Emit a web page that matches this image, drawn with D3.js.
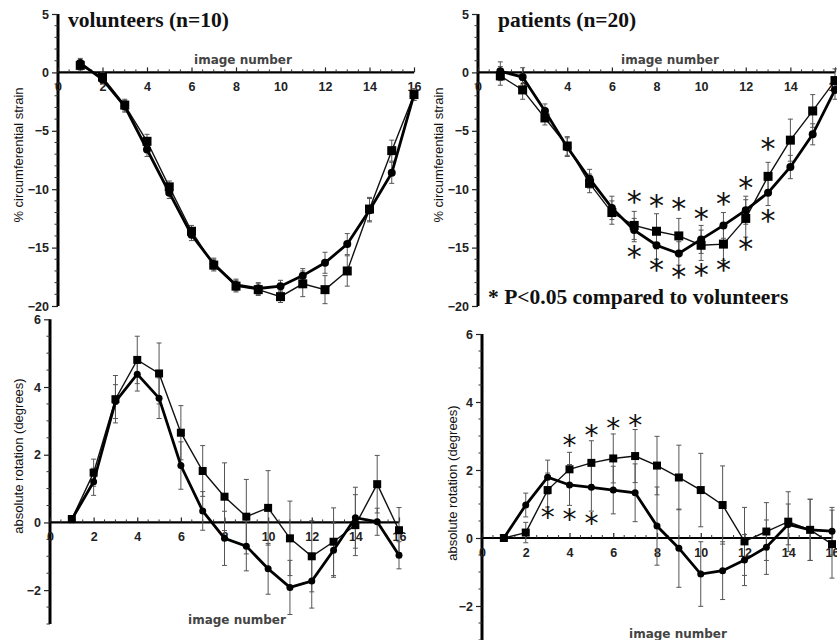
<!DOCTYPE html>
<html>
<head>
<meta charset="utf-8">
<script src="https://cdn.jsdelivr.net/npm/d3@7"></script>
<style>
  html, body { margin: 0; padding: 0; background: #fff; }
  svg { display: block; }
</style>
</head>
<body>
<div id="chart"></div>
<script>
// image numbers along the x axis
const imageNumbers = [1, 2, 3, 4, 5, 6, 7, 8, 9, 10, 11, 12, 13, 14, 15, 16];
const xTicks = [0, 2, 4, 6, 8, 10, 12, 14, 16];
const strainTicks = [5, 0, -5, -10, -15, -20];
const rotationTicks = [6, 4, 2, 0, -2];

// volunteers, circumferential strain (%)
const volStrainSq = [0.6, -0.4, -2.8, -5.9, -9.8, -13.6, -16.5, -18.3, -18.6, -19.2, -18.1, -18.6, -17.0, -11.7, -6.7, -1.9];
const volStrainSqErr = [0.4, 0.4, 0.5, 0.6, 0.5, 0.5, 0.5, 0.5, 0.5, 0.5, 1.1, 1.2, 1.3, 1.0, 0.9, 0.5];
const volStrainCi = [0.8, -0.6, -2.9, -6.6, -10.3, -13.9, -16.4, -18.2, -18.5, -18.3, -17.4, -16.3, -14.7, -11.8, -8.6, -1.9];
const volStrainCiErr = [0.4, 0.4, 0.5, 0.6, 0.5, 0.5, 0.5, 0.5, 0.5, 0.5, 0.6, 0.9, 0.9, 1.0, 0.9, 0.5];

// patients, circumferential strain (%)
const patStrainSq = [-0.3, -1.5, -3.9, -6.3, -9.5, -12.0, -13.1, -13.6, -14.0, -14.8, -14.7, -12.5, -8.9, -5.8, -3.3, -0.7];
const patStrainSqErr = [0.8, 0.8, 0.6, 0.8, 0.8, 1.0, 1.2, 1.5, 1.5, 1.3, 1.4, 1.6, 1.2, 1.8, 1.4, 1.0];
const patStrainCi = [0.1, -0.4, -3.3, -6.4, -9.1, -11.6, -13.5, -14.8, -15.5, -14.3, -13.1, -11.8, -10.3, -8.1, -5.3, -1.5];
const patStrainCiErr = [0.8, 0.8, 0.6, 0.8, 0.8, 1.0, 1.0, 1.2, 1.0, 1.2, 1.1, 1.2, 1.1, 1.0, 0.9, 0.8];
// significance markers: [image number, strain value at the star]
const patStrainStarsAbove = [[7, -10.9], [8, -11.2], [9, -11.5], [10, -12.3], [11, -11.05], [12, -9.7], [13, -6.3]];
const patStrainStarsBelow = [[7, -15.6], [8, -16.7], [9, -17.3], [10, -17.1], [11, -16.7], [12, -14.9], [13, -12.5]];

// volunteers, absolute rotation (degrees)
const volRotSq = [0.1, 1.47, 3.64, 4.8, 4.4, 2.65, 1.52, 0.76, 0.17, 0.43, -0.47, -1.0, -0.57, -0.08, 1.13, -0.23];
const volRotSqErr = [0.1, 0.4, 0.7, 0.7, 0.9, 0.8, 0.75, 1.0, 1.1, 1.1, 1.1, 1.05, 1.0, 0.9, 0.85, 0.67];
const volRotCi = [0.09, 1.2, 3.57, 4.38, 3.67, 1.68, 0.34, -0.47, -0.7, -1.37, -1.92, -1.73, -0.82, 0.14, 0.02, -0.97];
const volRotCiErr = [0.1, 0.4, 0.5, 0.5, 0.6, 0.7, 0.57, 0.8, 0.73, 0.75, 0.8, 0.8, 0.8, 0.9, 0.4, 0.4];

// patients, absolute rotation (degrees)
const patRotSq = [0, 0.16, 1.41, 2.02, 2.21, 2.34, 2.41, 2.13, 1.78, 1.41, 0.97, -0.1, 0.19, 0.48, 0.24, -0.18];
const patRotSqErr = [0, 0.3, 0.5, 0.5, 0.65, 0.72, 0.78, 0.86, 0.95, 1.08, 1.15, 1.0, 0.85, 0.88, 0.9, 1.0];
const patRotCi = [0, 0.97, 1.79, 1.56, 1.49, 1.41, 1.33, 0.35, -0.3, -1.06, -0.96, -0.65, -0.27, 0.4, 0.24, 0.2];
const patRotCiErr = [0, 0.35, 0.5, 0.6, 0.7, 0.7, 0.85, 1.15, 1.15, 0.95, 0.85, 0.75, 0.8, 0.6, 0.9, 0.7];
const patRotStarsAbove = [[4, 2.78], [5, 3.08], [6, 3.29], [7, 3.39]];
const patRotStarsBelow = [[3, 0.68], [4, 0.61], [5, 0.5]];

const W = 837, H = 640;
const svg = d3.select('#chart').append('svg').attr('width', W).attr('height', H);

const panels = [
  {
    xr: [58, 414], yd: [5, -20], yr: [14, 306], ticks: strainTicks, minor: 1, mk: 9, mc: 8,
    sq: volStrainSq, sqErr: volStrainSqErr, ci: volStrainCi, ciErr: volStrainCiErr,
    title: 'volunteers (n=10)', titleX: 68, titleY: 27,
    yLabel: '% circumferential strain', yLabelX: 18, yLabelY: 155,
    xLabelX: 243, xLabelY: 64, stars: []
  },
  {
    xr: [478, 835], yd: [5, -20], yr: [14, 306], ticks: strainTicks, minor: 1, mk: 9, mc: 8,
    sq: patStrainSq, sqErr: patStrainSqErr, ci: patStrainCi, ciErr: patStrainCiErr,
    title: 'patients (n=20)', titleX: 498, titleY: 27,
    yLabel: '% circumferential strain', yLabelX: 438, yLabelY: 155,
    xLabelX: 670, xLabelY: 64, stars: patStrainStarsAbove.concat(patStrainStarsBelow), starSize: 30,
    note: '* P<0.05 compared to volunteers', noteX: 488, noteY: 304
  },
  {
    xr: [50, 399], yd: [6, -3], yr: [319.3, 624], ticks: rotationTicks, minor: 0.5, mk: 8, mc: 7,
    sq: volRotSq, sqErr: volRotSqErr, ci: volRotCi, ciErr: volRotCiErr,
    yLabel: 'absolute rotation (degrees)', yLabelX: 18, yLabelY: 456,
    xLabelX: 237, xLabelY: 624, stars: []
  },
  {
    xr: [482, 832], yd: [6, -3], yr: [334, 640], ticks: rotationTicks, minor: 0.5, mk: 8, mc: 7,
    sq: patRotSq, sqErr: patRotSqErr, ci: patRotCi, ciErr: patRotCiErr,
    yLabel: 'absolute rotation (degrees)', yLabelX: 452, yLabelY: 483,
    xLabelX: 678, xLabelY: 638, stars: patRotStarsAbove.concat(patRotStarsBelow), starSize: 28
  }
];

panels.forEach((p) => drawPanel(p));

function drawPanel(p) {
  const x = d3.scaleLinear().domain([0, 16]).range(p.xr);
  const y = d3.scaleLinear().domain(p.yd).range(p.yr);
  const g = svg.append('g');

  // y axis (line + major/minor ticks on the left)
  const yAxis = g.append('g').attr('transform', `translate(${x(0)},0)`)
    .call(d3.axisLeft(y).tickValues(p.ticks).tickSize(6).tickPadding(3).tickFormat(d3.format('d')));
  yAxis.select('.domain').attr('stroke', '#000').attr('stroke-width', 3).attr('d', `M0,${y(p.yd[0])}V${y(p.yd[1])}`);
  yAxis.selectAll('.tick line').attr('stroke', '#222').attr('stroke-width', 1.2);
  yAxis.selectAll('.tick text')
    .attr('font-family', 'Liberation Sans, Arial, sans-serif').attr('font-weight', 'bold')
    .attr('font-size', 12.5).attr('fill', '#222');
  const yMinor = d3.range(p.yd[1], p.yd[0] + 0.001, p.minor).filter((v) => !p.ticks.includes(v));
  g.append('g').selectAll('line').data(yMinor).join('line')
    .attr('x1', x(0) - 3.5).attr('x2', x(0)).attr('y1', (d) => y(d)).attr('y2', (d) => y(d))
    .attr('stroke', '#333').attr('stroke-width', 1);

  // x axis at zero, ticks pointing up, labels underneath
  const xAxis = g.append('g').attr('transform', `translate(0,${y(0)})`)
    .call(d3.axisBottom(x).tickValues(xTicks).tickSize(-5).tickPadding(10).tickFormat(d3.format('d')));
  xAxis.select('.domain').attr('stroke', '#000').attr('stroke-width', 2.2).attr('d', `M${x(0)},0H${x(16)}`);
  xAxis.selectAll('.tick line').attr('stroke', '#222').attr('stroke-width', 1.2);
  xAxis.selectAll('.tick text')
    .attr('font-family', 'Liberation Sans, Arial, sans-serif').attr('font-weight', 'bold')
    .attr('font-size', 12.5).attr('fill', '#222');
  const xMinor = d3.range(0.5, 16, 0.5).filter((v) => !xTicks.includes(v));
  g.append('g').selectAll('line').data(xMinor).join('line')
    .attr('x1', (d) => x(d)).attr('x2', (d) => x(d)).attr('y1', y(0) - 3).attr('y2', y(0))
    .attr('stroke', '#333').attr('stroke-width', 1);

  // axis titles
  g.append('text').attr('x', p.xLabelX).attr('y', p.xLabelY).attr('text-anchor', 'middle')
    .attr('font-family', 'DejaVu Sans, sans-serif').attr('font-weight', 'bold')
    .attr('font-size', 12).attr('fill', '#444').text('image number');
  g.append('text').attr('transform', `translate(${p.yLabelX},${p.yLabelY}) rotate(-90)`)
    .attr('text-anchor', 'middle').attr('dominant-baseline', 'central')
    .attr('font-family', 'Liberation Sans, Arial, sans-serif')
    .attr('font-size', 13).attr('fill', '#111').text(p.yLabel);

  if (p.title) {
    g.append('text').attr('x', p.titleX).attr('y', p.titleY)
      .attr('font-family', 'Liberation Serif, Times New Roman, serif').attr('font-weight', 'bold')
      .attr('font-size', 21.5).attr('fill', '#111').text(p.title);
  }
  if (p.note) {
    g.append('text').attr('x', p.noteX).attr('y', p.noteY)
      .attr('font-family', 'Liberation Serif, Times New Roman, serif').attr('font-weight', 'bold')
      .attr('font-size', 21.5).attr('fill', '#111').text(p.note);
  }

  // error bars
  const series = [
    { vals: p.sq, err: p.sqErr },
    { vals: p.ci, err: p.ciErr }
  ];
  series.forEach((s) => {
    const rows = imageNumbers.map((n, i) => ({ n, v: s.vals[i], e: s.err[i] })).filter((d) => d.e > 0);
    const eb = g.append('g').attr('stroke', '#555').attr('stroke-width', 1);
    eb.selectAll('line.v').data(rows).join('line').attr('class', 'v')
      .attr('x1', (d) => x(d.n)).attr('x2', (d) => x(d.n))
      .attr('y1', (d) => y(d.v - d.e)).attr('y2', (d) => y(d.v + d.e));
    eb.selectAll('line.t').data(rows).join('line').attr('class', 't')
      .attr('x1', (d) => x(d.n) - 2.5).attr('x2', (d) => x(d.n) + 2.5)
      .attr('y1', (d) => y(d.v + d.e)).attr('y2', (d) => y(d.v + d.e));
    eb.selectAll('line.b').data(rows).join('line').attr('class', 'b')
      .attr('x1', (d) => x(d.n) - 2.5).attr('x2', (d) => x(d.n) + 2.5)
      .attr('y1', (d) => y(d.v - d.e)).attr('y2', (d) => y(d.v - d.e));
  });

  // lines
  const line = d3.line().x((d, i) => x(imageNumbers[i])).y((d) => y(d));
  g.append('path').datum(p.sq).attr('d', line).attr('fill', 'none')
    .attr('stroke', '#111').attr('stroke-width', 1.4);
  g.append('path').datum(p.ci).attr('d', line).attr('fill', 'none')
    .attr('stroke', '#000').attr('stroke-width', 2.8);

  // markers
  g.append('g').selectAll('rect').data(p.sq).join('rect')
    .attr('x', (d, i) => x(imageNumbers[i]) - p.mk / 2).attr('y', (d) => y(d) - p.mk / 2)
    .attr('width', p.mk).attr('height', p.mk).attr('fill', '#000');
  g.append('g').selectAll('circle').data(p.ci).join('circle')
    .attr('cx', (d, i) => x(imageNumbers[i])).attr('cy', (d) => y(d))
    .attr('r', p.mc / 2).attr('fill', '#000');

  // significance stars
  g.append('g').selectAll('text').data(p.stars).join('text')
    .attr('x', (d) => x(d[0])).attr('y', (d) => y(d[1]))
    .attr('dy', p.starSize * 0.42).attr('text-anchor', 'middle')
    .attr('font-family', 'DejaVu Sans, sans-serif')
    .attr('font-size', p.starSize || 28).attr('fill', '#111').text('*');
}
</script>
</body>
</html>
